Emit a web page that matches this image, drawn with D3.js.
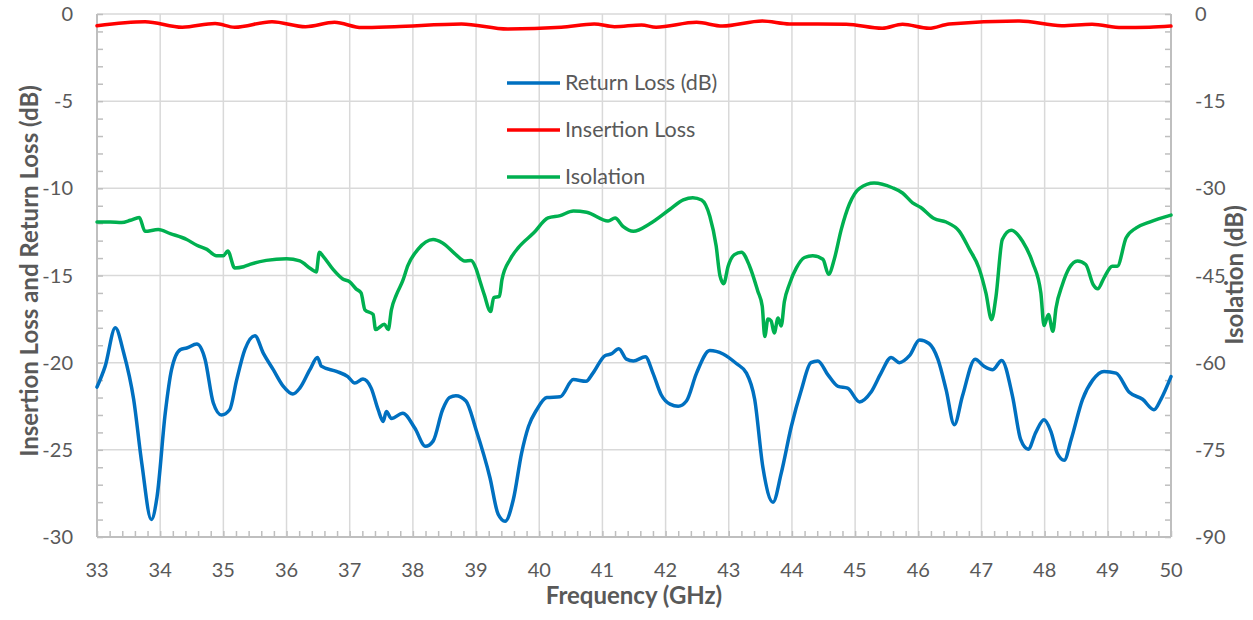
<!DOCTYPE html>
<html>
<head>
<meta charset="utf-8">
<script src="https://cdn.jsdelivr.net/npm/d3@7"></script>
<style>
  body { margin: 0; background: #fff; }
  svg text { font-family: Lato, "Open Sans", sans-serif; fill: #595959; }
</style>
</head>
<body>
<div id="chart"></div>
<script>
// Return loss (dB), left axis
const rlFreq = [33, 33.13, 33.29, 33.42, 33.58, 33.71, 33.86, 33.95, 34.08, 34.18, 34.32, 34.42, 34.58, 34.71, 34.84, 34.97, 35.1, 35.21, 35.34, 35.5, 35.63, 35.79, 35.95, 36.1, 36.21, 36.37, 36.49, 36.55, 36.79, 36.97, 37.08, 37.21, 37.34, 37.45, 37.53, 37.58, 37.66, 37.84, 38.03, 38.2, 38.32, 38.47, 38.58, 38.68, 38.84, 39.0, 39.22, 39.35, 39.46, 39.59, 39.72, 39.83, 39.96, 40.12, 40.33, 40.54, 40.74, 40.85, 41.04, 41.14, 41.26, 41.38, 41.49, 41.68, 41.8, 41.93, 42.07, 42.2, 42.33, 42.49, 42.7, 42.91, 43.12, 43.28, 43.41, 43.54, 43.7, 43.83, 43.99, 44.15, 44.3, 44.41, 44.57, 44.73, 44.88, 45.07, 45.25, 45.41, 45.57, 45.7, 45.86, 46.02, 46.17, 46.31, 46.44, 46.57, 46.7, 46.9, 47.04, 47.18, 47.32, 47.49, 47.62, 47.74, 47.86, 47.99, 48.1, 48.2, 48.31, 48.42, 48.6, 48.76, 48.94, 49.13, 49.34, 49.55, 49.73, 49.84, 50];
const rlVal = [-21.4, -20.2, -18.0, -19.4, -22.1, -25.8, -29.0, -27.7, -22.9, -20.4, -19.25, -19.16, -18.93, -19.8, -22.3, -23.0, -22.7, -21.0, -19.25, -18.45, -19.44, -20.4, -21.36, -21.8, -21.46, -20.4, -19.7, -20.2, -20.5, -20.8, -21.17, -20.94, -21.46, -22.7, -23.37, -22.8, -23.2, -22.9, -23.75, -24.8, -24.5, -22.7, -22.0, -21.9, -22.2, -23.85, -26.6, -28.7, -29.1, -27.85, -25.2, -23.66, -22.7, -22.0, -21.96, -20.97, -21.07, -20.6, -19.6, -19.5, -19.2, -19.8, -19.9, -19.66, -20.6, -21.84, -22.38, -22.5, -22.2, -20.6, -19.3, -19.5, -20.05, -20.6, -22.1, -26.0, -28.0, -26.35, -23.66, -21.55, -20.0, -19.9, -20.7, -21.36, -21.46, -22.25, -21.7, -20.6, -19.7, -20.0, -19.6, -18.7, -18.9, -19.8, -21.55, -23.56, -21.9, -19.8, -20.2, -20.4, -19.87, -21.9, -24.4, -24.96, -24.0, -23.28, -23.95, -25.2, -25.6, -24.4, -22.1, -21.0, -20.5, -20.6, -21.7, -22.1, -22.7, -22.1, -20.8];

// Insertion loss (dB), left axis
const ilFreq = [33, 33.76, 34.35, 34.87, 35.18, 35.77, 36.3, 36.76, 37.19, 37.71, 38.77, 39.5, 40.35, 40.87, 41.19, 41.62, 41.85, 42.49, 42.9, 43.53, 43.96, 44.86, 45.43, 45.75, 46.17, 46.49, 47.6, 48.27, 48.75, 49.22, 49.66, 50];
const ilVal = [-0.67, -0.44, -0.76, -0.54, -0.76, -0.44, -0.73, -0.48, -0.78, -0.73, -0.57, -0.86, -0.76, -0.57, -0.73, -0.63, -0.76, -0.48, -0.69, -0.4, -0.57, -0.59, -0.82, -0.59, -0.82, -0.57, -0.4, -0.67, -0.59, -0.78, -0.76, -0.69];

// Isolation (dB), right axis
const isoFreq = [33, 33.21, 33.39, 33.53, 33.67, 33.76, 33.97, 34.16, 34.42, 34.58, 34.74, 34.89, 35.0, 35.07, 35.18, 35.32, 35.42, 35.68, 36.0, 36.21, 36.39, 36.47, 36.52, 36.58, 36.74, 36.89, 37.0, 37.1, 37.18, 37.24, 37.37, 37.41, 37.55, 37.61, 37.66, 37.74, 37.84, 37.92, 38.08, 38.32, 38.47, 38.68, 38.82, 38.92, 39.0, 39.06, 39.13, 39.23, 39.28, 39.37, 39.41, 39.54, 39.67, 39.91, 40.14, 40.33, 40.54, 40.75, 41.09, 41.2, 41.33, 41.49, 41.75, 42.07, 42.28, 42.43, 42.57, 42.7, 42.8, 42.86, 42.92, 42.99, 43.09, 43.2, 43.33, 43.46, 43.53, 43.57, 43.62, 43.67, 43.72, 43.78, 43.83, 43.88, 43.96, 44.07, 44.2, 44.33, 44.49, 44.58, 44.67, 44.78, 44.91, 45.07, 45.3, 45.59, 45.75, 45.91, 46.04, 46.25, 46.44, 46.65, 46.81, 46.96, 47.07, 47.16, 47.23, 47.33, 47.47, 47.65, 47.81, 47.94, 47.99, 48.06, 48.13, 48.18, 48.28, 48.39, 48.52, 48.65, 48.77, 48.84, 48.94, 49.07, 49.15, 49.29, 49.45, 49.66, 50];
const isoVal = [-35.8, -35.8, -35.9, -35.5, -35.0, -37.4, -37.1, -37.8, -38.8, -39.8, -40.5, -41.6, -41.6, -40.8, -43.7, -43.5, -43.1, -42.4, -42.1, -42.5, -43.9, -44.4, -41.0, -41.7, -44.0, -45.6, -46.1, -47.3, -48.0, -50.9, -51.7, -54.3, -53.4, -54.3, -50.9, -48.3, -45.9, -43.3, -40.5, -38.8, -39.4, -41.4, -42.5, -42.4, -43.8, -45.9, -48.3, -51.2, -48.8, -48.6, -45.7, -42.2, -40.2, -37.7, -35.1, -34.7, -33.9, -34.1, -35.6, -35.1, -36.6, -37.4, -36.1, -33.6, -32.0, -31.6, -32.0, -34.8, -39.9, -45.0, -46.4, -43.4, -41.4, -41.0, -43.4, -47.7, -50.3, -55.5, -52.5, -52.8, -54.9, -52.3, -53.7, -49.5, -46.5, -43.7, -41.9, -41.6, -42.2, -44.8, -42.2, -37.1, -32.7, -30.0, -29.1, -29.9, -30.8, -32.5, -33.3, -35.2, -35.8, -37.4, -40.5, -43.7, -48.0, -52.6, -48.6, -38.8, -37.2, -39.1, -42.8, -48.0, -53.6, -51.7, -54.6, -50.6, -46.6, -43.7, -42.5, -43.1, -46.6, -47.3, -45.4, -43.4, -43.4, -38.5, -36.8, -35.8, -34.6];

const xTicks = d3.range(33, 51, 1);
const leftTicks = [0, -5, -10, -15, -20, -25, -30];
const rightTicks = [0, -15, -30, -45, -60, -75, -90];

const legendItems = [
  { name: "Return Loss (dB)", color: "#0070C0" },
  { name: "Insertion Loss", color: "#FF0000" },
  { name: "Isolation", color: "#00B050" }
];

const width = 1253, height = 620;
const pL = 97, pR = 1171, pT = 14, pB = 537;

const svg = d3.select("#chart")
    .append("svg")
    .attr("width", width)
    .attr("height", height);

const x = d3.scaleLinear().domain([33, 50]).range([pL, pR]);
const yL = d3.scaleLinear().domain([-30, 0]).range([pB, pT]);
const yR = d3.scaleLinear().domain([-90, 0]).range([pB, pT]);

// gridlines
svg.append("g")
    .selectAll("line")
    .data(xTicks.slice(1))
    .join("line")
    .attr("x1", d => x(d)).attr("x2", d => x(d))
    .attr("y1", pT).attr("y2", pB)
    .attr("stroke", "#d9d9d9").attr("stroke-width", 1.5);

svg.append("g")
    .selectAll("line")
    .data(leftTicks.slice(0, -1))
    .join("line")
    .attr("x1", pL).attr("x2", pR)
    .attr("y1", d => yL(d)).attr("y2", d => yL(d))
    .attr("stroke", "#d9d9d9").attr("stroke-width", 1.5);

// axes with inward minor ticks
const axisColor = "#bfbfbf";
const bottomAxis = svg.append("g")
    .attr("transform", `translate(0,${pB})`)
    .call(d3.axisBottom(x).tickValues(d3.range(33, 50.01, 0.2)).tickSize(-6).tickFormat(""));
const leftAxis = svg.append("g")
    .attr("transform", `translate(${pL},0)`)
    .call(d3.axisLeft(yL).tickValues(d3.range(-30, 0.01, 1)).tickSize(-6).tickFormat(""));
const rightAxis = svg.append("g")
    .attr("transform", `translate(${pR},0)`)
    .call(d3.axisRight(yR).tickValues(d3.range(-90, 0.01, 3)).tickSize(-6).tickFormat(""));

[bottomAxis, leftAxis, rightAxis].forEach(g => {
  g.select(".domain").attr("stroke", axisColor).attr("stroke-width", 2);
  g.selectAll(".tick line").attr("stroke", axisColor).attr("stroke-width", 1.5);
});
bottomAxis.select(".domain").attr("d", `M${pL},0H${pR}`);
leftAxis.select(".domain").attr("d", `M0,${pT}V${pB}`);
rightAxis.select(".domain").attr("d", `M0,${pT}V${pB}`);

// tick labels
svg.append("g")
    .selectAll("text")
    .data(xTicks)
    .join("text")
    .attr("x", d => x(d))
    .attr("y", 577)
    .attr("text-anchor", "middle")
    .attr("font-size", 20)
    .text(d => d);

svg.append("g")
    .selectAll("text")
    .data(leftTicks)
    .join("text")
    .attr("x", 73)
    .attr("y", d => yL(d) + 7)
    .attr("text-anchor", "end")
    .attr("font-size", 20)
    .text(d => d === 0 ? "0" : "-" + Math.abs(d));

svg.append("g")
    .selectAll("text")
    .data(rightTicks)
    .join("text")
    .attr("x", 1195)
    .attr("y", d => yR(d) + 7)
    .attr("text-anchor", "start")
    .attr("font-size", 20)
    .text(d => d === 0 ? "0" : "-" + Math.abs(d));

// axis titles
svg.append("text")
    .attr("x", 634).attr("y", 604)
    .attr("text-anchor", "middle")
    .attr("font-size", 24).attr("font-weight", "bold")
    .text("Frequency (GHz)");

svg.append("text")
    .attr("transform", `translate(38,271) rotate(-90)`)
    .attr("text-anchor", "middle")
    .attr("font-size", 24).attr("font-weight", "bold")
    .text("Insertion Loss and Return Loss (dB)");

svg.append("text")
    .attr("transform", `translate(1243,275) rotate(-90)`)
    .attr("text-anchor", "middle")
    .attr("font-size", 24).attr("font-weight", "bold")
    .text("Isolation (dB)");

// series
function drawSeries(freq, vals, yScale, color) {
  const line = d3.line()
      .x(d => x(d[0]))
      .y(d => yScale(d[1]))
      .curve(d3.curveMonotoneX);
  svg.append("path")
      .datum(d3.zip(freq, vals))
      .attr("d", line)
      .attr("fill", "none")
      .attr("stroke", color)
      .attr("stroke-width", 3.5)
      .attr("stroke-linejoin", "round")
      .attr("stroke-linecap", "round");
}

drawSeries(isoFreq, isoVal, yR, legendItems[2].color);
drawSeries(rlFreq, rlVal, yL, legendItems[0].color);
drawSeries(ilFreq, ilVal, yL, legendItems[1].color);

// legend
const legend = svg.append("g");
legendItems.forEach((item, i) => {
  const yy = 83 + i * 47;
  legend.append("line")
      .attr("x1", 507).attr("x2", 560)
      .attr("y1", yy).attr("y2", yy)
      .attr("stroke", item.color).attr("stroke-width", 3.5);
  legend.append("text")
      .attr("x", 565).attr("y", yy + 7)
      .attr("font-size", 21.5)
      .text(item.name);
});
</script>
</body>
</html>
